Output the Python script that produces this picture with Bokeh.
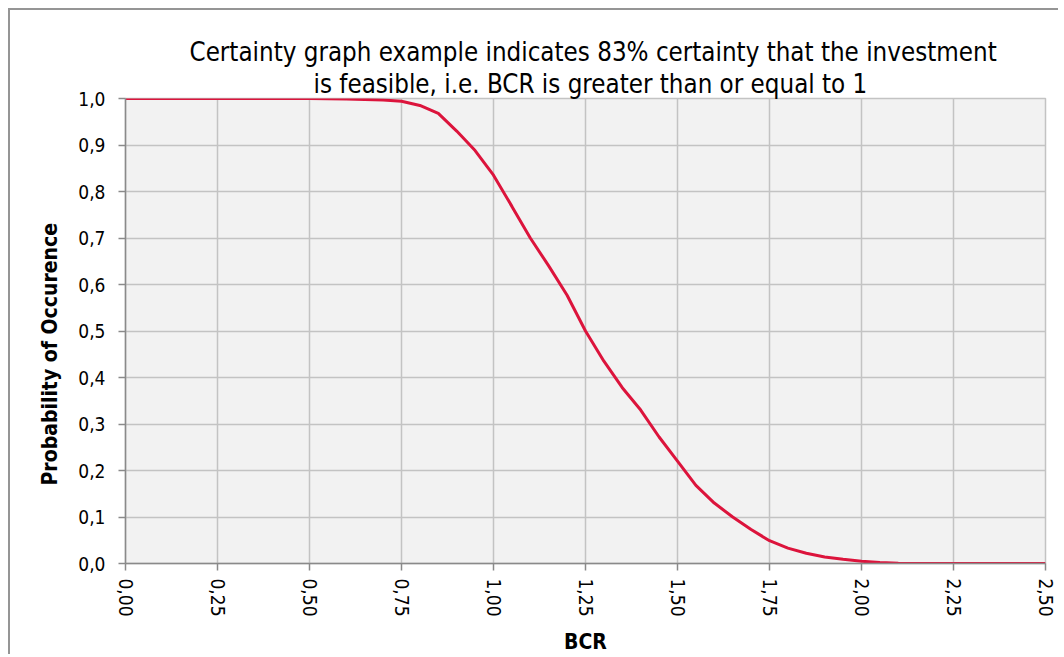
from bokeh.plotting import figure
from bokeh.models import Range1d, FixedTicker, CustomJSTickFormatter, Title
from bokeh.embed import file_html
from bokeh.resources import INLINE

# ---- data ----
bcr = [0.00, 0.50, 0.60, 0.65, 0.70, 0.75, 0.80, 0.85, 0.90, 0.95,
       1.00, 1.05, 1.10, 1.15, 1.20, 1.25, 1.30, 1.35, 1.40, 1.45,
       1.50, 1.55, 1.60, 1.65, 1.70, 1.75, 1.80, 1.85, 1.90, 1.95,
       2.00, 2.05, 2.10, 2.20, 2.50]
prob = [1.000, 1.000, 0.999, 0.998, 0.997, 0.994, 0.985, 0.968, 0.930, 0.888,
        0.835, 0.768, 0.700, 0.640, 0.577, 0.500, 0.435, 0.378, 0.330, 0.272,
        0.220, 0.168, 0.130, 0.100, 0.073, 0.049, 0.033, 0.022, 0.014, 0.009,
        0.005, 0.002, 0.0005, 0.000, 0.000]
x_ticks = [0.0, 0.25, 0.5, 0.75, 1.0, 1.25, 1.5, 1.75, 2.0, 2.25, 2.5]
y_ticks = [0.0, 0.1, 0.2, 0.3, 0.4, 0.5, 0.6, 0.7, 0.8, 0.9, 1.0]
title_lines = ["Certainty graph example indicates 83% certainty that the investment",
               "is feasible, i.e. BCR is greater than or equal to 1"]
x_label = "BCR"
y_label = "Probability of Occurence"

FONT = "DejaVu Sans Condensed"

p = figure(width=1050, height=646, output_backend="svg", toolbar_location=None,
           x_range=Range1d(0, 2.5), y_range=Range1d(0, 1.0),
           min_border_left=115, min_border_right=15, min_border_top=88, min_border_bottom=92,
           title=None)
p.styles = {"border-top": "2px solid #959595", "border-left": "2px solid #959595",
            "margin-left": "8px", "margin-top": "8px"}

p.background_fill_color = "#f2f2f2"
p.border_fill_color = "white"
p.outline_line_color = "#c3c3c3"
p.outline_line_width = 1.5

p.line(bcr, prob, line_color="#dc143c", line_width=3)

for ax in (p.xaxis[0], p.yaxis[0]):
    ax.axis_line_color = "#8a8a8a"
    ax.axis_line_width = 1.5
    ax.major_tick_line_color = "#8a8a8a"
    ax.major_tick_line_width = 1.5
    ax.major_tick_in = 0
    ax.major_tick_out = 7
    ax.minor_tick_line_color = None
    ax.major_label_text_font = FONT
    ax.major_label_text_font_size = "19px"
    ax.major_label_text_color = "black"
    ax.axis_label_text_font = FONT
    ax.axis_label_text_font_size = "21px"
    ax.axis_label_text_font_style = "bold"
    ax.axis_label_text_color = "black"

p.xaxis.ticker = FixedTicker(ticks=x_ticks)
p.yaxis.ticker = FixedTicker(ticks=y_ticks)
p.xaxis.formatter = CustomJSTickFormatter(code="return tick.toFixed(2).replace('.', ',');")
p.yaxis.formatter = CustomJSTickFormatter(code="return tick.toFixed(1).replace('.', ',');")
p.xaxis.major_label_orientation = "vertical"
p.xaxis.major_label_standoff = 8
p.yaxis.major_label_standoff = 13
p.xaxis.axis_label = x_label
p.xaxis.axis_label_standoff = 10

# y-axis title: sits a little below the plot-area centre in the reference
p.add_layout(Title(text=y_label, align="left", offset=78, text_font=FONT,
                   text_font_size="21px", text_font_style="bold",
                   text_color="black", standoff=27), "left")

p.xgrid.ticker = FixedTicker(ticks=x_ticks)
p.ygrid.ticker = FixedTicker(ticks=y_ticks)
p.grid.grid_line_color = "#c3c3c3"
p.grid.grid_line_width = 1.5

title_offsets = [64, 188]
for line, off in reversed(list(zip(title_lines, title_offsets))):
    p.add_layout(Title(text=line, align="left", offset=off, text_font=FONT,
                       text_font_size="25.7px", text_font_style="normal",
                       text_color="black", standoff=0), "above")

open("out.html", "w").write(file_html(p, INLINE))
